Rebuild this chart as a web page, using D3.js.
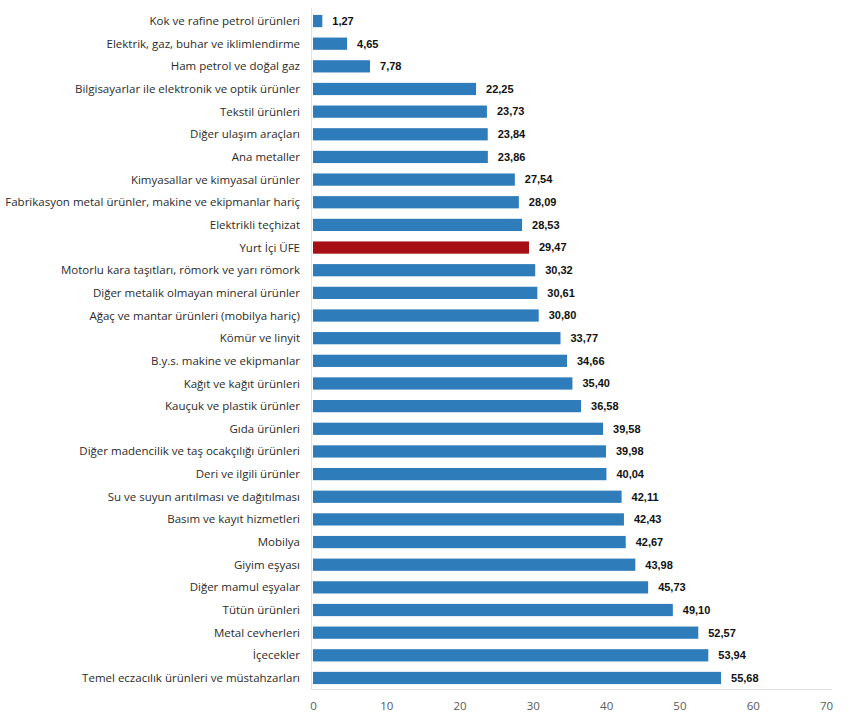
<!DOCTYPE html>
<html><head><meta charset="utf-8">
<script src="https://cdn.jsdelivr.net/npm/d3@7"></script>
<style>body{margin:0;background:#fff}</style>
</head><body>
<svg id="c" width="850" height="727"></svg>
<script>
const categories = ["Kok ve rafine petrol ürünleri","Elektrik, gaz, buhar ve iklimlendirme","Ham petrol ve doğal gaz","Bilgisayarlar ile elektronik ve optik ürünler","Tekstil ürünleri","Diğer ulaşım araçları","Ana metaller","Kimyasallar ve kimyasal ürünler","Fabrikasyon metal ürünler, makine ve ekipmanlar hariç","Elektrikli teçhizat","Yurt İçi ÜFE","Motorlu kara taşıtları, römork ve yarı römork","Diğer metalik olmayan mineral ürünler","Ağaç ve mantar ürünleri (mobilya hariç)","Kömür ve linyit","B.y.s. makine ve ekipmanlar","Kağıt ve kağıt ürünleri","Kauçuk ve plastik ürünler","Gıda ürünleri","Diğer madencilik ve taş ocakçılığı ürünleri","Deri ve ilgili ürünler","Su ve suyun arıtılması ve dağıtılması","Basım ve kayıt hizmetleri","Mobilya","Giyim eşyası","Diğer mamul eşyalar","Tütün ürünleri","Metal cevherleri","İçecekler","Temel eczacılık ürünleri ve müstahzarları"];
const values = [1.27,4.65,7.78,22.25,23.73,23.84,23.86,27.54,28.09,28.53,29.47,30.32,30.61,30.80,33.77,34.66,35.40,36.58,39.58,39.98,40.04,42.11,42.43,42.67,43.98,45.73,49.10,52.57,53.94,55.68];
const highlight = "Yurt İçi ÜFE";
const xTicks = [0,10,20,30,40,50,60,70];

const svg = d3.select("#c");
const x = d3.scaleLinear().domain([0,70]).range([313,826]);
const y = d3.scaleBand().domain(categories).range([9.7,689.3]).paddingInner(0.46).paddingOuter(0.23);
const fmt = v => v.toFixed(2).replace(".", ",");

svg.append("line").attr("x1",311.5).attr("x2",311.5).attr("y1",8).attr("y2",690).attr("stroke","#e3e3e3");
svg.append("line").attr("x1",311).attr("x2",832).attr("y1",689.5).attr("y2",689.5).attr("stroke","#e3e3e3");

svg.selectAll("rect.bar").data(categories).join("rect")
  .attr("x", x(0))
  .attr("y", d => y(d))
  .attr("width", (d,i) => x(values[i]) - x(0))
  .attr("height", y.bandwidth())
  .attr("fill", d => d === highlight ? "#a50f15" : "#2e7cba");

svg.selectAll("text.cat").data(categories).join("text")
  .attr("x", 300)
  .attr("y", d => y(d) + y.bandwidth()/2)
  .attr("dy","0.35em")
  .attr("text-anchor","end")
  .attr("font-family","'Open Sans', 'Noto Sans', sans-serif")
  .attr("font-size","11.5px")
  .attr("fill","#2b2b2b")
  .text(d => d);

svg.selectAll("text.val").data(categories).join("text")
  .attr("x", (d,i) => x(values[i]) + 10)
  .attr("y", d => y(d) + y.bandwidth()/2)
  .attr("dy","0.35em")
  .attr("font-family","'Liberation Sans', Arial, sans-serif")
  .attr("font-weight","bold")
  .attr("font-size","11px")
  .attr("fill","#111")
  .text((d,i) => fmt(values[i]));

const ax = svg.append("g").attr("transform","translate(0,689.5)")
  .call(d3.axisBottom(x).tickValues(xTicks).tickSize(0).tickPadding(12).tickFormat(d3.format("d")));
ax.select(".domain").remove();
ax.selectAll("text").attr("font-family","'Open Sans', 'Noto Sans', sans-serif").attr("font-size","11.5px").attr("fill","#595959");
</script>
</body></html>
